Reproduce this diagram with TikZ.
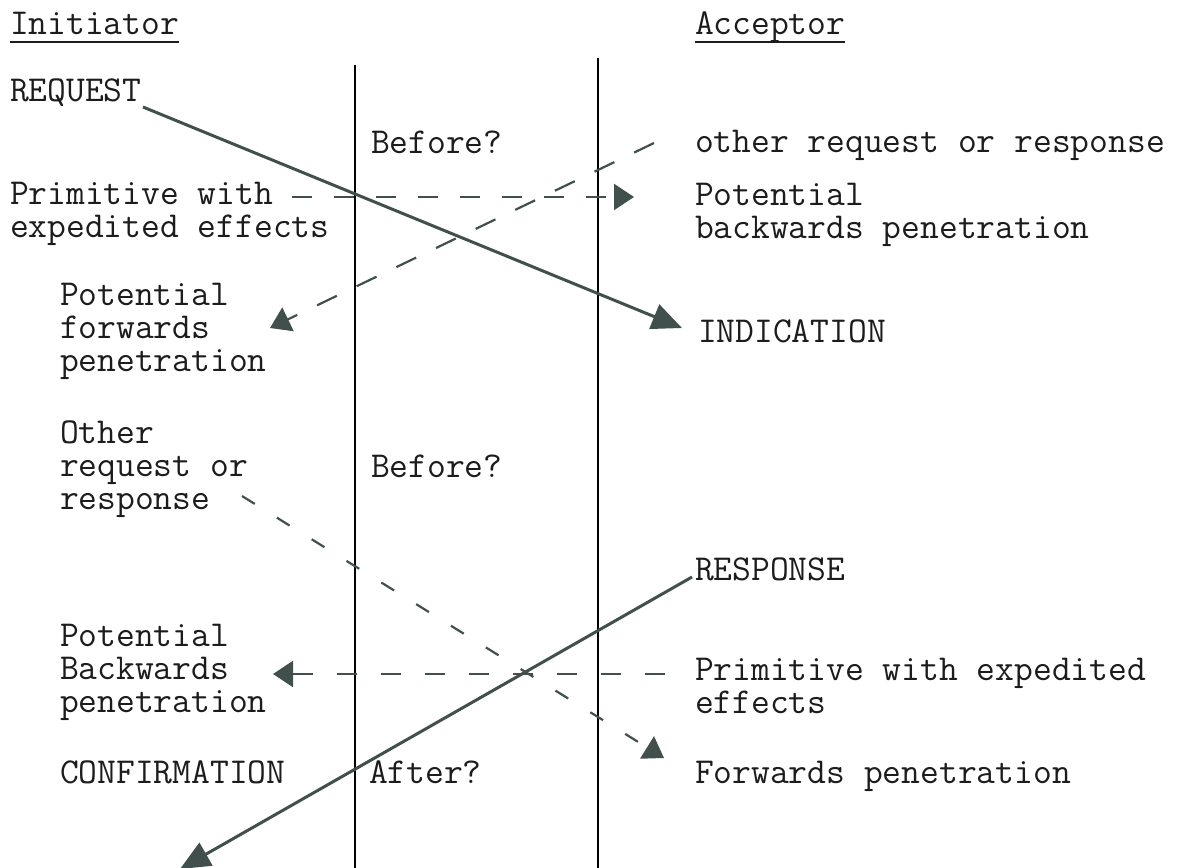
\documentclass[tikz,border=0pt]{standalone}
\usepackage{fontspec}
\usetikzlibrary{arrows.meta}
\definecolor{ink}{RGB}{28,28,28}
\definecolor{pen}{RGB}{66,80,77}
\begin{document}
\begin{tikzpicture}[x=1pt,y=-1pt,
  lbl/.style={anchor=base west, inner sep=0pt, outer sep=0pt, align=left,
    font=\ttfamily\fontsize{36.5}{33}\selectfont, text=ink},
  uline/.style={line width=2pt, ink},
  rule/.style={line width=1.8pt, black},
  msg/.style={line width=3pt, pen, -{Triangle[length=30pt,width=26pt]}},
  side/.style={line width=2.2pt, pen, -{Triangle[length=20pt,width=26pt]}},
]
\useasboundingbox (0,0) rectangle (1187,868);

% column headings
\node[lbl] (init) at (10,34) {Initiator};
\node[lbl] (acc) at (695,34) {Acceptor};
\draw[uline] ([yshift=-8pt]init.base west) -- ([yshift=-8pt]init.base east);
\draw[uline] ([yshift=-8pt]acc.base west) -- ([yshift=-8pt]acc.base east);

% service boundaries
\coordinate (lt) at (355,65);  \coordinate (lb) at (355,868);
\coordinate (rt) at (598,58);  \coordinate (rb) at (598,868);
\draw[rule] (lt) -- (lb);
\draw[rule] (rt) -- (rb);

% labels (multi-line labels sit on the baseline of their last line)
\node[lbl] (req) at (10,101) {REQUEST};
\node[lbl] (bef1) at (371,153) {Before?};
\node[lbl] (other1) at (695,152) {other request or response};
\node[lbl] (prim1) at (10,237) {Primitive with\\expedited effects};
\node[lbl] (bpen1) at (695,238) {Potential\\backwards penetration};
\node[lbl] (fpen1) at (60,371) {Potential\\forwards\\penetration};
\node[lbl] (ind) at (698,342) {INDICATION};
\node[lbl] (other2) at (60,509) {Other\\request or\\response};
\node[lbl] (bef2) at (371,477) {Before?};
\node[lbl] (resp) at (695,580) {RESPONSE};
\node[lbl] (bpen2) at (60,712) {Potential\\Backwards\\penetration};
\node[lbl] (prim2) at (695,713) {Primitive with expedited\\effects};
\node[lbl] (conf) at (60,783) {CONFIRMATION};
\node[lbl] (aft) at (369,783) {After?};
\node[lbl] (fpen2) at (695,783) {Forwards penetration};

% end points of the connectors
\coordinate (reqOut) at (143,107);
\coordinate (indIn) at (682,328);
\coordinate (respOut) at (692,577);
\coordinate (confIn) at (180,869);
\coordinate (prim1Out) at (292,197);
\coordinate (bpen1In) at (634,197);
\coordinate (other1Out) at (654,143);
\coordinate (fpen1In) at (270,328);
\coordinate (other2Out) at (242,496);
\coordinate (fpen2In) at (664,758);
\coordinate (prim2Out) at (665,674);
\coordinate (bpen2In) at (273,674);

% primitives
\draw[msg] (reqOut) -- (indIn);
\draw[msg] (respOut) -- (confIn);

% possible penetrations
\draw[side, dash pattern=on 20pt off 22pt] (prim1Out) -- (bpen1In);
\draw[side, dash pattern=on 22pt off 22pt] (other1Out) -- (fpen1In);
\draw[side, dash pattern=on 15pt off 26pt] (other2Out) -- (fpen2In);
\draw[side, dash pattern=on 20pt off 24pt] (prim2Out) -- (bpen2In);
\end{tikzpicture}
\end{document}
